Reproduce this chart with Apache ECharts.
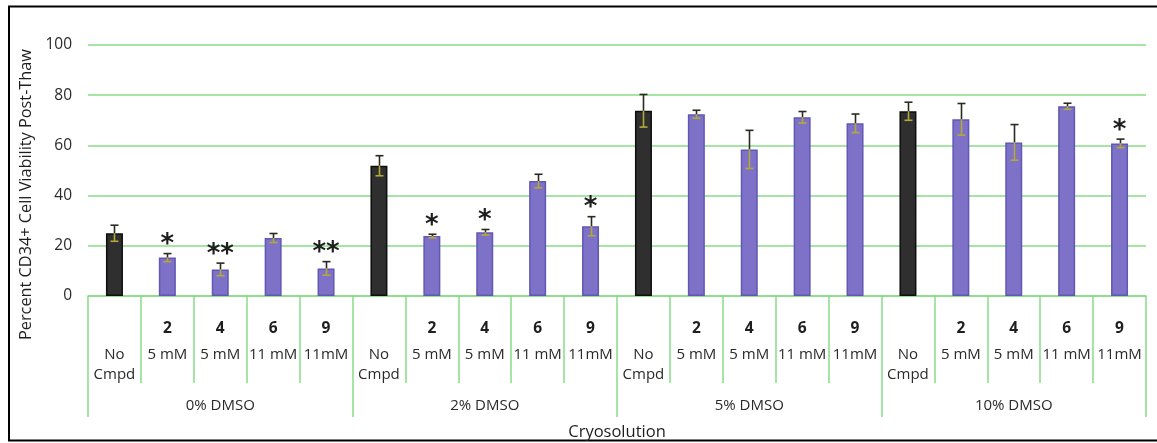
<!DOCTYPE html>
<html>
<head>
<meta charset="utf-8">
<script src="https://cdn.jsdelivr.net/npm/echarts@6/dist/echarts.min.js"></script>
<style>html,body{margin:0;padding:0;background:#fff}#c{width:1157px;height:443px}</style>
</head>
<body>
<div id="c"></div>
<script>
// ---- data ----
const groups = ['0% DMSO', '2% DMSO', '5% DMSO', '10% DMSO'];
const compounds = ['No Cmpd', '2', '4', '6', '9'];
const concentrations = ['', '5 mM', '5 mM', '11 mM', '11mM'];
const yTicks = [0, 20, 40, 60, 80, 100];

const dmso0 = [25.0, 15.3, 10.6, 23.1, 11.0];
const dmso2 = [51.9, 23.9, 25.4, 45.8, 27.8];
const dmso5 = [73.8, 72.4, 58.4, 71.2, 68.8];
const dmso10 = [73.6, 70.4, 61.2, 75.6, 60.8];

const err0 = [3.2, 1.6, 2.5, 1.8, 2.7];
const err2 = [4.0, 0.7, 1.1, 2.7, 3.8];
const err5 = [6.5, 1.6, 7.6, 2.3, 3.7];
const err10 = [3.6, 6.3, 7.1, 1.2, 1.7];

const stars0 = ['', '*', '**', '', '**'];
const stars2 = ['', '*', '*', '', '*'];
const stars5 = ['', '', '', '', ''];
const stars10 = ['', '', '', '', '*'];

const xTitle = 'Cryosolution';
const yTitle = 'Percent CD34+ Cell Viability Post-Thaw';

// ---- build ----
const values = [dmso0, dmso2, dmso5, dmso10];
const errors = [err0, err2, err5, err10];
const stars = [stars0, stars2, stars5, stars10];

const categories = [];
const barData = [];
const errData = [];
const starData = [];
groups.forEach((g, gi) => {
  compounds.forEach((c, ci) => {
    const idx = categories.length;
    const label = ci === 0 ? '{b| }\n{n|No}\n{n|Cmpd}' : '{b|' + c + '}\n{n|' + concentrations[ci] + '}';
    categories.push(label);
    const isCtrl = ci === 0;
    barData.push({
      value: values[gi][ci],
      itemStyle: isCtrl
        ? { color: '#2f2f2f', borderColor: '#0e0e0e', borderWidth: 1.5 }
        : { color: '#7d72c8', borderColor: '#6257b2', borderWidth: 1.5 }
    });
    errData.push([idx, values[gi][ci], errors[gi][ci]]);
    if (stars[gi][ci]) starData.push([idx, values[gi][ci] + errors[gi][ci], stars[gi][ci]]);
  });
});

const green = '#86dc86';
const textColor = '#2a2a2a';
const font = "'Open Sans', sans-serif";

function renderErr(params, api) {
  const i = api.value(0), v = api.value(1), e = api.value(2);
  const top = api.coord([i, v + e]);
  const mid = api.coord([i, v]);
  const bot = api.coord([i, v - e]);
  const x = Math.round(top[0]) + 0.5;
  const cw = 4;
  const dark = '#2a2a20', yel = '#b4a838';
  return {
    type: 'group',
    children: [
      { type: 'line', shape: { x1: x, y1: top[1], x2: x, y2: Math.max(mid[1], top[1]) }, style: { stroke: dark, lineWidth: 1.6 } },
      { type: 'line', shape: { x1: x - cw, y1: top[1], x2: x + cw, y2: top[1] }, style: { stroke: dark, lineWidth: 1.6 } },
      { type: 'line', shape: { x1: x, y1: mid[1], x2: x, y2: bot[1] }, style: { stroke: yel, lineWidth: 1.6 } },
      { type: 'line', shape: { x1: x - cw, y1: bot[1], x2: x + cw, y2: bot[1] }, style: { stroke: yel, lineWidth: 1.6 } }
    ]
  };
}

function renderStar(params, api) {
  const i = api.value(0), t = api.value(1);
  const p = api.coord([i, t]);
  return {
    type: 'text',
    style: {
      text: starData[params.dataIndex][2],
      x: p[0], y: p[1] - 8,
      align: 'center', verticalAlign: 'middle',
      fill: '#1e1e1e', font: "bold 26px 'DejaVu Sans', sans-serif"
    }
  };
}

const chart = echarts.init(document.getElementById('c'), null, { renderer: 'canvas' });
chart.setOption({
  animation: false,
  backgroundColor: '#fff',
  grid: { left: 88, right: 11, top: 45, bottom: 147, containLabel: false, outerBoundsMode: 'none' },
  graphic: [
    { type: 'rect', shape: { x: 9, y: 6.5, width: 1160, height: 434 }, style: { fill: null, stroke: '#000', lineWidth: 2 }, silent: true }
  ],
  xAxis: [
    {
      type: 'category', data: categories, position: 'bottom',
      axisLine: { show: true, lineStyle: { color: green, width: 1.5 } },
      axisTick: { show: true, interval: 0, length: 87, lineStyle: { color: green, width: 1.5 } },
      axisLabel: {
        interval: 0, margin: 17, color: textColor, fontFamily: font, fontSize: 15,
        rich: {
          b: { fontWeight: 'bold', fontSize: 15.5, lineHeight: 32, color: '#1e1e1e', fontFamily: font },
          n: { fontSize: 15, lineHeight: 19.5, color: textColor, fontFamily: font }
        }
      },
      splitLine: { show: false }
    },
    {
      type: 'category', data: groups, position: 'bottom',
      axisLine: { show: false },
      axisTick: { show: true, interval: 0, length: 121, lineStyle: { color: green, width: 1.5 } },
      axisLabel: { interval: 0, margin: 102, color: textColor, fontFamily: font, fontSize: 15 },
      name: xTitle, nameLocation: 'middle', nameGap: 128,
      nameTextStyle: { color: '#1e1e1e', fontFamily: font, fontSize: 16.5 }
    }
  ],
  yAxis: {
    type: 'value', min: 0, max: 100, interval: 20,
    axisLine: { show: false }, axisTick: { show: false },
    axisLabel: { margin: 16, color: textColor, fontFamily: font, fontSize: 15.5,
      formatter: v => yTicks.includes(v) ? String(v) : '' },
    splitLine: { lineStyle: { color: green, width: 1.5 } },
    name: yTitle, nameLocation: 'middle', nameGap: 48,
    nameTextStyle: { color: '#1e1e1e', fontFamily: font, fontSize: 16.3, padding: [0, 48, 0, 0] }
  },
  series: [
    { type: 'bar', xAxisIndex: 0, data: barData, barWidth: 17, z: 2 },
    { type: 'custom', xAxisIndex: 0, data: errData, renderItem: renderErr, z: 5 },
    { type: 'custom', xAxisIndex: 0, data: starData, renderItem: renderStar, z: 6 }
  ]
});
</script>
</body>
</html>
